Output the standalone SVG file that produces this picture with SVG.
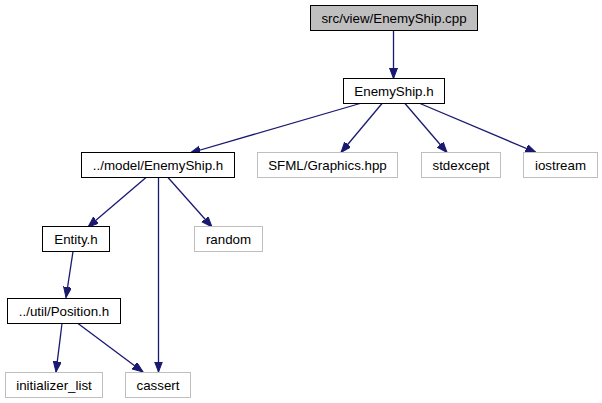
<svg xmlns="http://www.w3.org/2000/svg" width="602" height="403" viewBox="0 0 602 403">
<style>
text{font-family:"Liberation Sans",Arial,sans-serif;font-size:13.33px;fill:#000;text-anchor:middle}
.main rect{fill:#bfbfbf;stroke:#000;stroke-width:1}
.local rect{fill:#fff;stroke:#000;stroke-width:1}
.sys rect{fill:#fff;stroke:#bfbfbf;stroke-width:1}
.edges path{fill:none;stroke:#191970;stroke-width:1.3;marker-end:url(#ah)}
</style>
<defs>
<marker id="ah" markerUnits="userSpaceOnUse" markerWidth="11" markerHeight="9" refX="10.5" refY="4" orient="auto">
<path d="M0,0 L10.5,4 L0,8 z" fill="#191970" stroke="#191970" stroke-width="1"/>
</marker>
</defs>
<rect width="602" height="403" fill="#fff"/>
<g class="edges">
<path d="M393.5,30.5 L393.5,78.5"/>
<path d="M360,103.5 L190,153"/>
<path d="M382,103.5 L341,152.5"/>
<path d="M405,103.5 L447,152.5"/>
<path d="M420,103.5 L536,152.5"/>
<path d="M146,177.5 L88,227"/>
<path d="M168,177.5 L212,227"/>
<path d="M158.5,177.5 L158.5,372"/>
<path d="M73,251.5 L66,297.5"/>
<path d="M62,323.5 L56,372"/>
<path d="M78,323.5 L143,372"/>
</g>
<g id="node1" class="main"><rect x="310.5" y="5.5" width="167" height="25"/><text x="394" y="22.5">src/view/EnemyShip.cpp</text></g>
<g id="node2" class="local"><rect x="343.5" y="78.5" width="101" height="25"/><text x="394" y="95.5">EnemyShip.h</text></g>
<g id="node3" class="local"><rect x="81.5" y="152.5" width="153" height="25"/><text x="158" y="169.5">../model/EnemyShip.h</text></g>
<g id="node4" class="sys"><rect x="257.5" y="152.5" width="140" height="25"/><text x="327.5" y="169.5">SFML/Graphics.hpp</text></g>
<g id="node5" class="sys"><rect x="421.5" y="152.5" width="79" height="25"/><text x="461" y="169.5">stdexcept</text></g>
<g id="node6" class="sys"><rect x="523.5" y="152.5" width="74" height="25"/><text x="560.5" y="169.5">iostream</text></g>
<g id="node7" class="local"><rect x="42.5" y="226.5" width="67" height="25"/><text x="76" y="243.5">Entity.h</text></g>
<g id="node8" class="sys"><rect x="194.5" y="226.5" width="68" height="25"/><text x="228.5" y="243.5">random</text></g>
<g id="node9" class="local"><rect x="7.5" y="298.5" width="113" height="25"/><text x="64" y="315.5">../util/Position.h</text></g>
<g id="node10" class="sys"><rect x="5.5" y="372.5" width="97" height="25"/><text x="54" y="389.5">initializer_list</text></g>
<g id="node11" class="sys"><rect x="125.5" y="372.5" width="65" height="25"/><text x="158" y="389.5">cassert</text></g>
</svg>
